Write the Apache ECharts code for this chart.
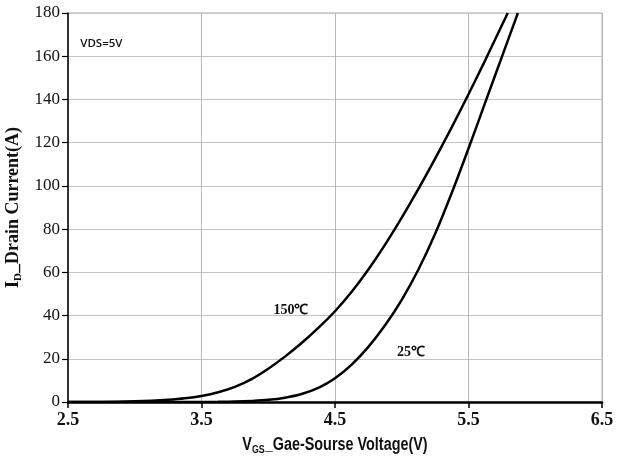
<!DOCTYPE html>
<html><head><meta charset="utf-8">
<script src="https://cdn.jsdelivr.net/npm/echarts@6/dist/echarts.min.js"></script>
<style>html,body{margin:0;padding:0;background:#fff}#c{width:624px;height:463px}</style>
</head><body><div id="c"></div>
<script>
const vgs150 = [2.5, 2.75, 3.0, 3.125, 3.25, 3.375, 3.5, 3.625, 3.75, 3.875, 4.0, 4.125, 4.25, 4.375, 4.5, 4.625, 4.75, 4.875, 5.0, 5.125, 5.25, 5.375, 5.5, 5.625, 5.75, 5.794];
const id150  = [0, 0.05, 0.3, 0.55, 1.0, 1.7, 2.8, 4.5, 7, 10.6, 15.4, 21, 27.3, 34.3, 42, 51, 61.3, 72.8, 85.3, 98.6, 112.6, 127.2, 142.4, 158.1, 174.3, 180];
const vgs25  = [2.5, 3.0, 3.5, 3.625, 3.75, 3.875, 4.0, 4.125, 4.25, 4.375, 4.5, 4.625, 4.75, 4.875, 5.0, 5.125, 5.25, 5.375, 5.5, 5.625, 5.75, 5.87];
const id25   = [0, 0, 0, 0.07, 0.2, 0.5, 1, 2, 3.7, 6.5, 11, 17.3, 25.5, 35.5, 47.3, 61.3, 77.8, 96.8, 117.3, 138.5, 159.7, 180];
const xLabelValues = [2.5, 3.5, 4.5, 5.5, 6.5];
const xTitle = 'V{sub|GS}_Gae-Sourse Voltage(V)';
const yTitle = 'I{sub|D}_Drain Current(A)';
const notes = [
  {text: '150℃', x: 4.17, y: 42.5, font: 'bold 14px "Liberation Serif", serif'},
  {text: '25℃', x: 5.07, y: 23, font: 'bold 14px "Liberation Serif", serif'},
  {text: 'VDS=5V', x: 2.75, y: 166, font: '600 11.5px "Open Sans", sans-serif'}
];
const zip = (a, b) => a.map((v, i) => [v, b[i]]);
const chart = echarts.init(document.getElementById('c'));
chart.setOption({
  animation: false,
  backgroundColor: '#fff',
  grid: {left: 68, right: 22, top: 13, bottom: 61, show: true, borderColor: '#b0b0b0', borderWidth: 1, outerBoundsMode: 'none', containLabel: false},
  xAxis: {
    type: 'value', min: 2.5, max: 6.5, interval: 0.5,
    axisLine: {lineStyle: {color: '#000', width: 2.5}},
    axisTick: {show: true, customValues: xLabelValues, length: 6, lineStyle: {color: '#000', width: 1.5}},
    axisLabel: {customValues: xLabelValues, formatter: v => v.toFixed(1), color: '#111', fontSize: 18, fontWeight: 'bold', fontFamily: '"Liberation Serif", serif', margin: 9},
    splitLine: {show: true, lineStyle: {color: '#b8b8b8', width: 1}}
  },
  yAxis: {
    type: 'value', min: 0, max: 180, interval: 20,
    name: yTitle, nameLocation: 'middle', nameGap: 41,
    nameTextStyle: {color: '#111', fontSize: 18, fontWeight: 'bold', fontFamily: '"Liberation Serif", serif',
      rich: {sub: {fontSize: 11, fontWeight: 'bold', verticalAlign: 'bottom', padding: [9,0,0,0], fontFamily: '"Liberation Serif", serif', color: '#111'}}},
    axisLine: {show: true, lineStyle: {color: '#000', width: 1.5}},
    axisTick: {show: true, length: 6, lineStyle: {color: '#000', width: 1.2}},
    axisLabel: {color: '#111', fontSize: 17, fontFamily: '"Liberation Serif", serif', margin: 8},
    splitLine: {show: true, lineStyle: {color: '#c4c4c4', width: 1}}
  },
  series: [
    {type: 'line', data: zip(vgs150, id150), smooth: 0.3, showSymbol: false, lineStyle: {color: '#000', width: 2.5}, z: 5},
    {type: 'line', data: zip(vgs25, id25), smooth: 0.3, showSymbol: false, lineStyle: {color: '#000', width: 2.5}, z: 5}
  ]
});
const els = notes.map(n => {
  const p = chart.convertToPixel({gridIndex: 0}, [n.x, n.y]);
  return {type: 'text', x: p[0], y: p[1], z: 10, style: {text: n.text, font: n.font, fill: '#111', align: 'center', verticalAlign: 'middle'}};
});
const mid = chart.convertToPixel({gridIndex: 0}, [4.5, 0]);
els.push({type: 'text', x: mid[0], y: mid[1] + 43, scaleX: 0.8, z: 10,
  style: {text: xTitle, font: 'bold 18px "Liberation Sans", sans-serif', fill: '#111', align: 'center', verticalAlign: 'middle',
    rich: {sub: {font: 'bold 11px "Liberation Sans", sans-serif', fill: '#111', verticalAlign: 'bottom', padding: [9,0,0,0]}}}});
chart.setOption({graphic: els});
</script></body></html>
